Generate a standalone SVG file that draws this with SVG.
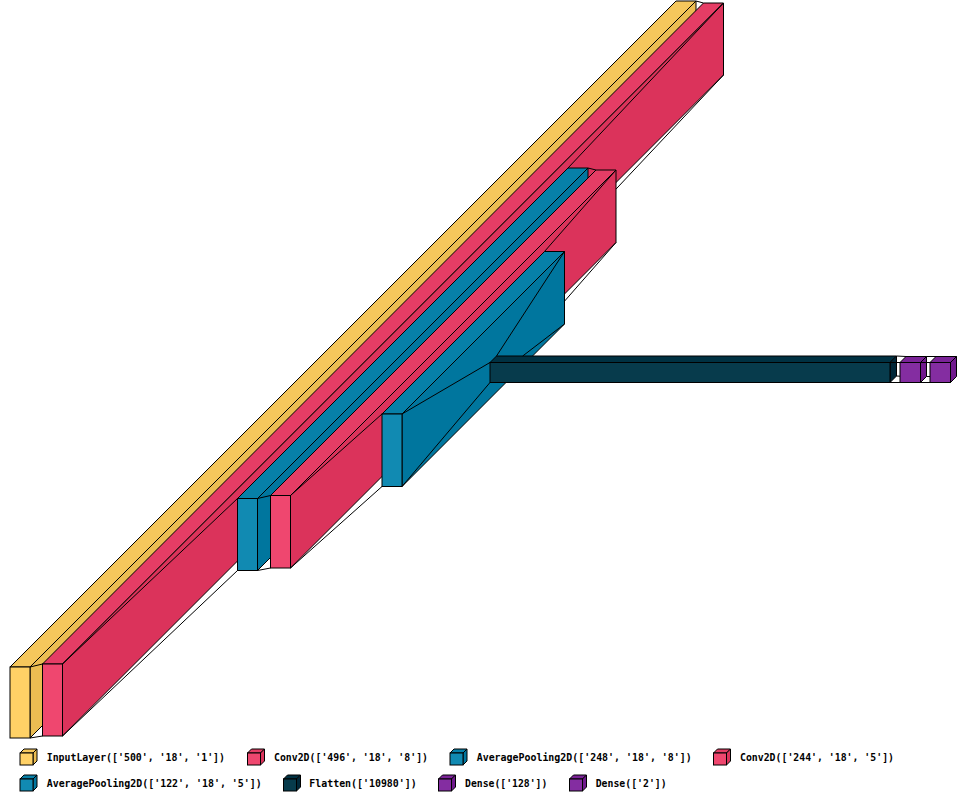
<svg xmlns="http://www.w3.org/2000/svg" width="967" height="801" viewBox="0 0 967 801">
<style>
.e{stroke:#000;stroke-width:1;stroke-linejoin:miter}
.c line{stroke:#000;stroke-width:1}
.inF{fill:#ffd166}.inT{fill:#f5c75c}.inS{fill:#ebbd52}
.cvF{fill:#ef476f}.cvT{fill:#e53d65}.cvS{fill:#db335b}
.plF{fill:#118ab2}.plT{fill:#0780a8}.plS{fill:#00769e}
.flF{fill:#073b4c}.flT{fill:#003142}.flS{fill:#002738}
.dnF{fill:#842da1}.dnT{fill:#7a2397}.dnS{fill:#70198d}
.lg text{font-family:"DejaVu Sans Mono","Liberation Mono",monospace;font-weight:bold;font-size:9.6px;fill:#000}
</style>
<rect x="0" y="0" width="967" height="801" fill="#fff"/>
<g id="input_layer">
<polygon class="e inT" points="10,667 676,1 696,1 30,667"/>
<polygon class="e inS" points="696,1 30,667 30,738 696,72"/>
<rect class="e inF" x="10" y="667" width="20" height="71"/>
</g>
<g id="conv2d_1">
<polygon class="e cvT" points="42.5,664 703.5,3 723.5,3 62.5,664"/>
<polygon class="e cvS" points="723.5,3 62.5,664 62.5,736 723.5,75"/>
<rect class="e cvF" x="42.5" y="664" width="20" height="72"/>
</g>
<g id="average_pooling2d_1">
<polygon class="e plT" points="237.5,498.5 568,168 588,168 257.5,498.5"/>
<polygon class="e plS" points="588,168 257.5,498.5 257.5,570.5 588,240"/>
<rect class="e plF" x="237.5" y="498.5" width="20" height="72"/>
</g>
<g id="conv2d_2">
<polygon class="e cvT" points="270.5,495.5 596,170 616,170 290.5,495.5"/>
<polygon class="e cvS" points="616,170 290.5,495.5 290.5,568 616,242.5"/>
<rect class="e cvF" x="270.5" y="495.5" width="20" height="72.5"/>
</g>
<g id="average_pooling2d_2">
<polygon class="e plT" points="382,414 544.5,251.5 564.5,251.5 402,414"/>
<polygon class="e plS" points="564.5,251.5 402,414 402,486.5 564.5,324"/>
<rect class="e plF" x="382" y="414" width="20" height="72.5"/>
</g>
<g id="flatten">
<polygon class="e flT" points="490,362.5 496.5,356 896.5,356 890,362.5"/>
<polygon class="e flS" points="896.5,356 890,362.5 890,382.5 896.5,376"/>
<rect class="e flF" x="490" y="362.5" width="400" height="20"/>
</g>
<g id="dense_1">
<polygon class="e dnT" points="900,362.5 906,356.5 926.5,356.5 920.5,362.5"/>
<polygon class="e dnS" points="926.5,356.5 920.5,362.5 920.5,382.5 926.5,376.5"/>
<rect class="e dnF" x="900" y="362.5" width="20.5" height="20"/>
</g>
<g id="dense_2">
<polygon class="e dnT" points="930,362.5 936,356.5 956.5,356.5 950.5,362.5"/>
<polygon class="e dnS" points="956.5,356.5 950.5,362.5 950.5,382.5 956.5,376.5"/>
<rect class="e dnF" x="930" y="362.5" width="20.5" height="20"/>
</g>
<g id="connectors" class="c">
<line x1="696" y1="1" x2="703.5" y2="3"/>
<line x1="30" y1="738" x2="42.5" y2="736"/>
<line x1="30" y1="667" x2="42.5" y2="664"/>
<line x1="723.5" y1="3" x2="568" y2="168"/>
<line x1="723.5" y1="75" x2="616" y2="189.1"/>
<line x1="62.5" y1="736" x2="237.5" y2="570.5"/>
<line x1="62.5" y1="664" x2="237.5" y2="498.5"/>
<line x1="588" y1="168" x2="596" y2="170"/>
<line x1="257.5" y1="570.5" x2="270.5" y2="568"/>
<line x1="257.5" y1="498.5" x2="270.5" y2="495.5"/>
<line x1="616" y1="170" x2="544.5" y2="251.5"/>
<line x1="616" y1="242.5" x2="564.5" y2="301.2"/>
<line x1="290.5" y1="568" x2="382" y2="486.5"/>
<line x1="290.5" y1="495.5" x2="382" y2="414"/>
<line x1="564.5" y1="251.5" x2="496.5" y2="356"/>
<line x1="564.5" y1="324" x2="522.7" y2="356"/>
<line x1="402" y1="486.5" x2="490" y2="382.5"/>
<line x1="402" y1="414" x2="490" y2="362.5"/>
<line x1="896.5" y1="356" x2="906" y2="356.5"/>
<line x1="896.5" y1="376" x2="900" y2="376.2"/>
<line x1="890" y1="382.5" x2="900" y2="382.5"/>
<line x1="890" y1="362.5" x2="900" y2="362.5"/>
<line x1="926.5" y1="356.5" x2="936" y2="356.5"/>
<line x1="926.5" y1="376.5" x2="930" y2="376.5"/>
<line x1="920.5" y1="382.5" x2="930" y2="382.5"/>
<line x1="920.5" y1="362.5" x2="930" y2="362.5"/>
</g>
<g id="legend" class="lg">
<g id="legend_input">
<polygon class="e inT" points="20,753 24,749 37,749 33,753"/>
<polygon class="e inS" points="37,749 33,753 33,765 37,761"/>
<rect class="e inF" x="20" y="753" width="13" height="12"/>
<text x="46.7" y="760.5" textLength="178.3" lengthAdjust="spacingAndGlyphs">InputLayer(['500', '18', '1'])</text>
</g>
<g id="legend_conv1">
<polygon class="e cvT" points="247.5,753 251.5,749 264.5,749 260.5,753"/>
<polygon class="e cvS" points="264.5,749 260.5,753 260.5,765 264.5,761"/>
<rect class="e cvF" x="247.5" y="753" width="13" height="12"/>
<text x="274" y="760.5" textLength="154" lengthAdjust="spacingAndGlyphs">Conv2D(['496', '18', '8'])</text>
</g>
<g id="legend_pool1">
<polygon class="e plT" points="450,753 454,749 467,749 463,753"/>
<polygon class="e plS" points="467,749 463,753 463,765 467,761"/>
<rect class="e plF" x="450" y="753" width="13" height="12"/>
<text x="476.7" y="760.5" textLength="215" lengthAdjust="spacingAndGlyphs">AveragePooling2D(['248', '18', '8'])</text>
</g>
<g id="legend_conv2">
<polygon class="e cvT" points="713.5,753 717.5,749 730.5,749 726.5,753"/>
<polygon class="e cvS" points="730.5,749 726.5,753 726.5,765 730.5,761"/>
<rect class="e cvF" x="713.5" y="753" width="13" height="12"/>
<text x="740" y="760.5" textLength="154" lengthAdjust="spacingAndGlyphs">Conv2D(['244', '18', '5'])</text>
</g>
<g id="legend_pool2">
<polygon class="e plT" points="20,779 24,775 37,775 33,779"/>
<polygon class="e plS" points="37,775 33,779 33,791 37,787"/>
<rect class="e plF" x="20" y="779" width="13" height="12"/>
<text x="46.7" y="786.5" textLength="215" lengthAdjust="spacingAndGlyphs">AveragePooling2D(['122', '18', '5'])</text>
</g>
<g id="legend_flatten">
<polygon class="e flT" points="283.5,779 287.5,775 300.5,775 296.5,779"/>
<polygon class="e flS" points="300.5,775 296.5,779 296.5,791 300.5,787"/>
<rect class="e flF" x="283.5" y="779" width="13" height="12"/>
<text x="309.3" y="786.5" textLength="107.4" lengthAdjust="spacingAndGlyphs">Flatten(['10980'])</text>
</g>
<g id="legend_dense1">
<polygon class="e dnT" points="438.5,779 442.5,775 455.5,775 451.5,779"/>
<polygon class="e dnS" points="455.5,775 451.5,779 451.5,791 455.5,787"/>
<rect class="e dnF" x="438.5" y="779" width="13" height="12"/>
<text x="465" y="786.5" textLength="82.3" lengthAdjust="spacingAndGlyphs">Dense(['128'])</text>
</g>
<g id="legend_dense2">
<polygon class="e dnT" points="569.5,779 573.5,775 586.5,775 582.5,779"/>
<polygon class="e dnS" points="586.5,775 582.5,779 582.5,791 586.5,787"/>
<rect class="e dnF" x="569.5" y="779" width="13" height="12"/>
<text x="595.7" y="786.5" textLength="71" lengthAdjust="spacingAndGlyphs">Dense(['2'])</text>
</g>
</g>
</svg>
